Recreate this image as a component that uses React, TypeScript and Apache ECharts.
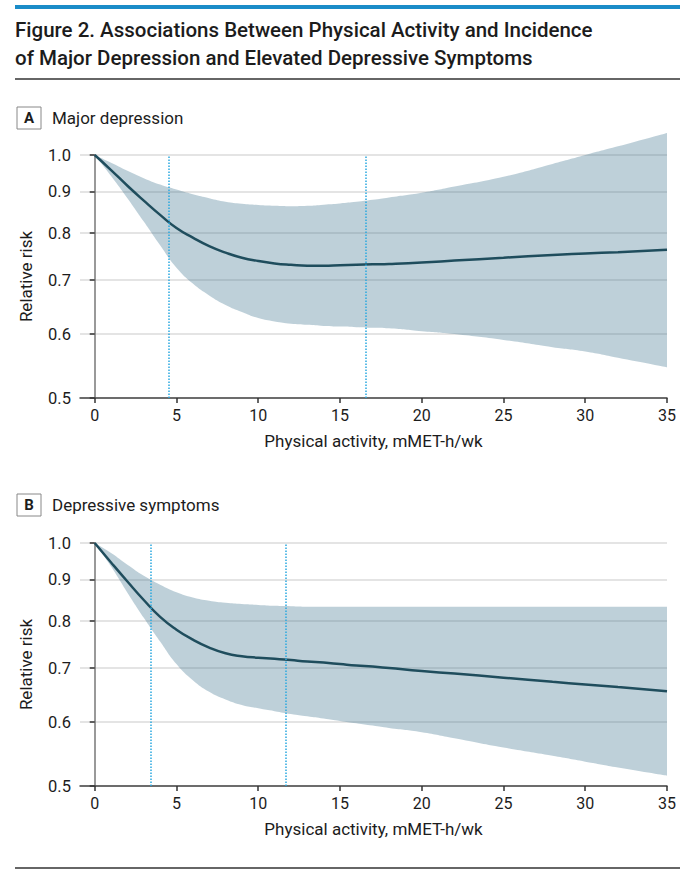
import React, { useEffect, useRef } from "react";
import * as echarts from "echarts";

// ---------- data ----------
const xPoints = [0, 1, 2, 3, 4, 5, 6, 7, 8, 9, 10, 11, 12, 13, 14, 15, 16, 17, 18, 20, 22, 25, 28, 30, 32, 35];

const majorRR = [1.0, 0.958, 0.916, 0.878, 0.843, 0.812, 0.79, 0.771, 0.757, 0.746, 0.739, 0.734, 0.731, 0.729, 0.729, 0.73, 0.731, 0.732, 0.733, 0.736, 0.74, 0.746, 0.752, 0.755, 0.758, 0.763];
const majorUpper = [1.0, 0.978, 0.956, 0.936, 0.919, 0.906, 0.894, 0.884, 0.875, 0.87, 0.867, 0.865, 0.864, 0.865, 0.868, 0.871, 0.875, 0.88, 0.886, 0.898, 0.914, 0.94, 0.975, 1.0, 1.025, 1.065];
const majorLower = [1.0, 0.942, 0.884, 0.827, 0.773, 0.725, 0.693, 0.67, 0.652, 0.639, 0.628, 0.622, 0.618, 0.616, 0.614, 0.613, 0.612, 0.611, 0.61, 0.605, 0.6, 0.59, 0.578, 0.571, 0.561, 0.546];

const sympRR = [1.0, 0.946, 0.896, 0.85, 0.81, 0.781, 0.759, 0.742, 0.73, 0.724, 0.721, 0.719, 0.716, 0.713, 0.711, 0.708, 0.705, 0.703, 0.7, 0.694, 0.689, 0.681, 0.673, 0.668, 0.663, 0.655];
const sympUpper = [1.0, 0.972, 0.94, 0.911, 0.888, 0.869, 0.856, 0.848, 0.843, 0.84, 0.838, 0.836, 0.835, 0.834, 0.834, 0.834, 0.834, 0.834, 0.834, 0.834, 0.834, 0.834, 0.834, 0.834, 0.834, 0.834];
const sympLower = [1.0, 0.935, 0.868, 0.808, 0.755, 0.708, 0.676, 0.654, 0.64, 0.63, 0.624, 0.619, 0.614, 0.61, 0.606, 0.602, 0.598, 0.594, 0.59, 0.583, 0.573, 0.558, 0.545, 0.536, 0.527, 0.515];

const majorRefLines = [4.5, 16.6];
const sympRefLines = [3.4, 11.7];

const yTickLabels = [0.5, 0.6, 0.7, 0.8, 0.9, 1.0];
const xTickLabels = [0, 5, 10, 15, 20, 25, 30, 35];

const titleLines = [
  "Figure 2. Associations Between Physical Activity and Incidence",
  "of Major Depression and Elevated Depressive Symptoms",
];
const panelLetters = ["A", "B"];
const panelTitles = ["Major depression", "Depressive symptoms"];
const xAxisName = "Physical activity, mMET-h/wk";
const yAxisName = "Relative risk";

// ---------- helpers ----------
const OFFSET = 1;
const T = (v: number) => Math.log(v) + OFFSET;
const INV = (v: number) => Math.exp(v - OFFSET);

const FONT = "Roboto, 'Noto Sans', sans-serif";
const TEXT = "#1c1c1c";
const BAND = "rgba(70,120,145,0.35)";
const LINE = "#1f4d5d";
const DOT = "#2aa8e0";
const SMOOTH = 0.5;

const gridTops = [155, 543];

function buildPanel(idx: number, mid: number[], lo: number[], hi: number[], refs: number[]) {
  const xAxis = {
    type: "value",
    gridIndex: idx,
    min: -0.9,
    max: 35,
    axisLine: { show: true, lineStyle: { color: "#444", width: 1.5 } },
    axisTick: { show: true, customValues: xTickLabels, length: 5, lineStyle: { color: "#333", width: 1.5 } },
    axisLabel: { customValues: xTickLabels, fontSize: 16, color: TEXT, fontFamily: FONT, margin: 9 },
    splitLine: { show: false },
    name: xAxisName,
    nameLocation: "middle",
    nameGap: 34,
    nameTextStyle: { fontSize: 17, color: TEXT, fontFamily: FONT },
  };
  const yAxis = {
    type: "value",
    gridIndex: idx,
    min: T(0.5),
    max: T(1.0),
    axisLine: { show: true, lineStyle: { color: "#777", width: 1.5 } },
    axisTick: { show: true, customValues: yTickLabels.map(T), length: 5, lineStyle: { color: "#333", width: 1.5 } },
    axisLabel: {
      customValues: yTickLabels.map(T),
      formatter: (v: number) => INV(v).toFixed(1),
      fontSize: 16.5,
      color: TEXT,
      fontFamily: FONT,
      margin: 9,
    },
    splitLine: { show: true, lineStyle: { color: "#e4e4e4", width: 1.8 } },
    name: yAxisName,
    nameLocation: "middle",
    nameGap: 46,
    nameTextStyle: { fontSize: 17, color: TEXT, fontFamily: FONT },
  };
  const stack = "band" + idx;
  // data columns ordered [y, x] so that stacking applies to the y dimension
  const series = [
    {
      type: "line",
      xAxisIndex: idx,
      yAxisIndex: idx,
      stack,
      encode: { x: 1, y: 0 },
      data: xPoints.map((x, i) => [T(lo[i]), x]),
      symbol: "none",
      smooth: SMOOTH,
      lineStyle: { opacity: 0 },
      clip: false,
      silent: true,
      z: 2,
    },
    {
      type: "line",
      xAxisIndex: idx,
      yAxisIndex: idx,
      stack,
      encode: { x: 1, y: 0 },
      data: xPoints.map((x, i) => [T(hi[i]) - T(lo[i]), x]),
      symbol: "none",
      smooth: SMOOTH,
      lineStyle: { opacity: 0 },
      areaStyle: { color: BAND, opacity: 1 },
      clip: false,
      silent: true,
      z: 2,
    },
    {
      type: "line",
      xAxisIndex: idx,
      yAxisIndex: idx,
      encode: { x: 1, y: 0 },
      data: xPoints.map((x, i) => [T(mid[i]), x]),
      symbol: "none",
      smooth: SMOOTH,
      lineStyle: { color: LINE, width: 2.5 },
      clip: false,
      silent: true,
      z: 4,
      markLine: {
        silent: true,
        symbol: "none",
        label: { show: false },
        lineStyle: { type: "dotted", color: DOT, width: 1.5 },
        data: refs.map((r) => ({ xAxis: r })),
      },
    },
  ];
  return { xAxis, yAxis, series };
}

export default function App() {
  const ref = useRef<HTMLDivElement>(null);
  useEffect(() => {
    if (!ref.current) return;
    const chart = echarts.init(ref.current, null, { renderer: "svg" });
    const a = buildPanel(0, majorRR, majorLower, majorUpper, majorRefLines);
    const b = buildPanel(1, sympRR, sympLower, sympUpper, sympRefLines);

    const panelTop = [107, 494];
    const graphic: any[] = [
      { type: "rect", shape: { x: 15, y: 5, width: 665, height: 4 }, style: { fill: "#1a8cc8" } },
      { type: "text", x: 15, y: 29.5, style: { text: titleLines[0], fill: TEXT, font: `500 20.5px ${FONT}`, verticalAlign: "middle" } },
      { type: "text", x: 15, y: 57.5, style: { text: titleLines[1], fill: TEXT, font: `500 20.5px ${FONT}`, verticalAlign: "middle" } },
      { type: "line", shape: { x1: 15, y1: 79, x2: 680, y2: 79 }, style: { stroke: "#333", lineWidth: 1.5 } },
      { type: "line", shape: { x1: 15, y1: 868, x2: 680, y2: 868 }, style: { stroke: "#333", lineWidth: 1.5 } },
    ];
    panelTop.forEach((t, i) => {
      graphic.push({ type: "rect", shape: { x: 17, y: t, width: 24, height: 22 }, style: { fill: "#fff", stroke: "#888", lineWidth: 1 } });
      graphic.push({ type: "text", x: 29, y: t + 11, style: { text: panelLetters[i], fill: TEXT, font: `bold 15px ${FONT}`, align: "center", verticalAlign: "middle" } });
      graphic.push({ type: "text", x: 52, y: t + 11, style: { text: panelTitles[i], fill: TEXT, font: `17px ${FONT}`, verticalAlign: "middle" } });
    });

    chart.setOption({
      animation: false,
      backgroundColor: "#fff",
      grid: gridTops.map((top) => ({ left: 80, top, width: 587, height: 243, containLabel: false })),
      xAxis: [a.xAxis, b.xAxis],
      yAxis: [a.yAxis, b.yAxis],
      series: [...a.series, ...b.series],
      graphic,
    });
    return () => chart.dispose();
  }, []);
  return <div ref={ref} style={{ position: "absolute", left: 0, top: 0, width: 695, height: 876 }} />;
}
